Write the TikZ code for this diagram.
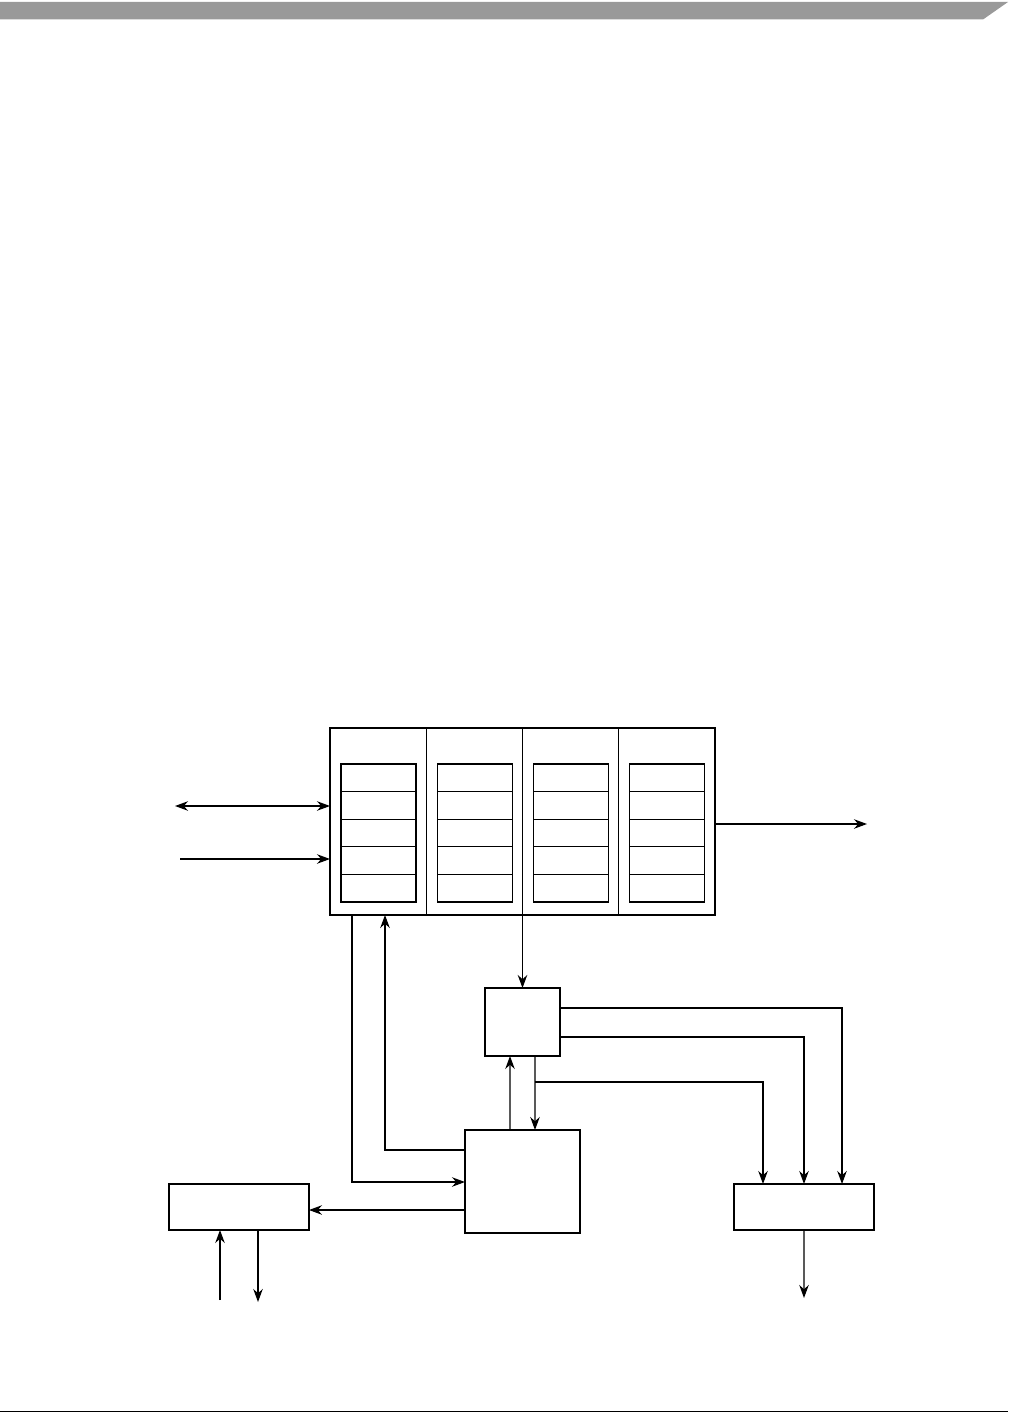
\documentclass[tikz,border=0pt]{standalone}
\usepackage{tikz}
\usetikzlibrary{arrows.meta, positioning}
\definecolor{headgray}{RGB}{153,153,153}

\begin{document}
\begin{tikzpicture}[
    x=0.02cm, y=-0.02cm,
    frame/.style={rectangle, draw, line width=0.65pt, inner sep=0pt, outer sep=0pt, anchor=north west},
    column/.style={frame, draw=none, minimum width=1.925cm, minimum height=3.74cm},
    cell/.style={frame, minimum width=1.5cm, minimum height=0.552cm},
    arrow/.style={-{Stealth[length=2.6mm, width=1.9mm]}, line width=0.65pt},
    dblarrow/.style={{Stealth[length=2.6mm, width=1.9mm]}-{Stealth[length=2.6mm, width=1.9mm]}, line width=0.65pt},
]
\useasboundingbox (0,0) rectangle (1019,1419);

% Page header and footer
\fill[headgray] (0,2) -- (1008,2) -- (983,19.5) -- (0,19.5) -- cycle;
\draw[line width=0.8pt] (0,1411.7) -- (1008,1411.7);

% Buffer with four columns
\node[frame, minimum width=7.7cm, minimum height=3.74cm] (buf) at (330,728) {};
\foreach \i in {1,...,4}
    \node[column] (col\i) at ({330+96.25*(\i-1)},728) {};
\foreach \i in {1,2,3}
    \draw[line width=0.65pt] (col\i.north east) -- (col\i.south east);
\foreach \i in {1,...,4}
    \foreach \j in {1,...,5}
        \node[cell] (c\i\j) at ({341+96.25*(\i-1)},{764+27.6*(\j-1)}) {};

% Blocks
\node[frame, minimum width=1.5cm, minimum height=1.36cm] (ctrl) at (485,988) {};
\node[frame, minimum width=2.3cm, minimum height=2.06cm] (core) at (465,1130) {};
\node[frame, minimum width=2.8cm, minimum height=0.92cm] (lbox) at (169,1184) {};
\node[frame, minimum width=2.8cm, minimum height=0.92cm] (rbox) at (734,1184) {};

% Free ends
\coordinate (bidirL) at (175,806);
\coordinate (inL) at (180,859);
\coordinate (outR) at (867,824);
\coordinate (feedA) at (352,1182);
\coordinate (feedB) at (385,1150);
\coordinate (toL) at (0,1210);
\coordinate (lin) at (220,1300);
\coordinate (lout) at (258,1302);
\coordinate (busA) at (842,1008);
\coordinate (busB) at (804,1037);
\coordinate (busC) at (763,1082);
\coordinate (rout) at (804,1298);

% Buffer I/O
\draw[dblarrow] (bidirL) -- (bidirL -| buf.west);
\draw[arrow] (inL) -- (inL -| buf.west);
\draw[arrow] (outR -| buf.east) -- (outR);
\draw[arrow] (ctrl.north |- buf.south) -- (ctrl.north);

% Loops to the core
\draw[arrow] (feedA |- buf.south) -- (feedA) -- (feedA -| core.west);
\draw[arrow] (feedB -| core.west) -- (feedB) -- (feedB |- buf.south);
\draw[arrow] ([xshift=-0.25cm]core.north) -- ([xshift=-0.25cm]ctrl.south);
\draw[arrow] ([xshift=0.25cm]ctrl.south) -- ([xshift=0.25cm]core.north);

% Left block
\draw[arrow] (toL -| core.west) -- (toL -| lbox.east);
\draw[arrow] (lin) -- (lin |- lbox.south);
\draw[arrow] (lout |- lbox.south) -- (lout);

% Right block
\draw[arrow] (busA -| ctrl.east) -- (busA) -- (busA |- rbox.north);
\draw[arrow] (busB -| ctrl.east) -- (busB) -- (busB |- rbox.north);
\draw[arrow] ([xshift=0.25cm]ctrl.south |- busC) -- (busC) -- (busC |- rbox.north);
\draw[arrow] (rbox.south) -- (rout);

\end{tikzpicture}
\end{document}
